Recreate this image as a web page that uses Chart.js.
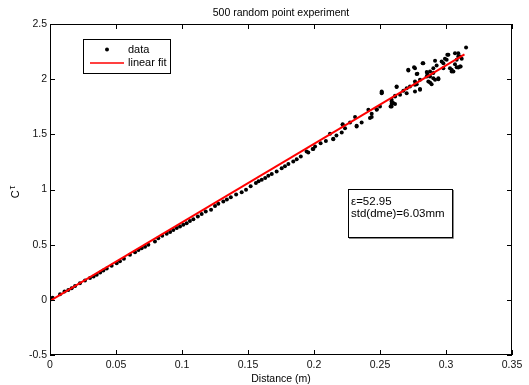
<!DOCTYPE html>
<html>
<head>
<meta charset="utf-8">
<script src="https://cdn.jsdelivr.net/npm/chart.js@4.4.1/dist/chart.umd.min.js"></script>
<style>
  html, body { margin: 0; padding: 0; background: #fff; }
  #wrap { width: 529px; height: 385px; }
</style>
</head>
<body>
<div id="wrap"><canvas id="c" width="529" height="385"></canvas></div>
<script>
// Measured distance (m) of each sample point
const distance = [
  0.002, 0.0076, 0.011, 0.0139, 0.0164, 0.019, 0.0227, 0.0265, 0.0303, 0.033,
  0.0354, 0.038, 0.0404, 0.043, 0.0467, 0.0505, 0.053, 0.056, 0.0606, 0.0644,
  0.067, 0.0694, 0.072, 0.0745, 0.0795, 0.082, 0.085, 0.0884, 0.091, 0.0934,
  0.096, 0.0985, 0.101, 0.1035, 0.106, 0.1086, 0.112, 0.1149, 0.118, 0.122,
  0.125, 0.1275, 0.1313, 0.134, 0.137, 0.141, 0.1452, 0.1485, 0.152, 0.156,
  0.158, 0.1604, 0.163, 0.1654, 0.168, 0.1717, 0.1755, 0.178, 0.1806, 0.1843,
  0.1869, 0.19, 0.1944, 0.1957, 0.199, 0.1995, 0.2008, 0.205, 0.209, 0.2121,
  0.2146, 0.2146, 0.217, 0.221, 0.2217, 0.2217, 0.2235, 0.2273, 0.2311, 0.2323,
  0.2323, 0.2361, 0.2412, 0.2424, 0.2437, 0.2437, 0.2475, 0.2475, 0.25, 0.2513,
  0.2513, 0.2513, 0.2588, 0.2588, 0.2588, 0.2588, 0.258, 0.26, 0.2614, 0.2614,
  0.2614, 0.2626, 0.2626, 0.2652, 0.2677, 0.2702, 0.2702, 0.2714, 0.2715, 0.2727,
  0.2758, 0.2765, 0.2765, 0.2765, 0.2765, 0.2778, 0.2778, 0.2783, 0.2803, 0.2803,
  0.2803, 0.2823, 0.2828, 0.2854, 0.2854, 0.2858, 0.2866, 0.2879, 0.2879, 0.2879,
  0.2891, 0.2904, 0.2904, 0.2904, 0.2917, 0.2917, 0.2929, 0.2942, 0.2942, 0.2967,
  0.298, 0.298, 0.2992, 0.3005, 0.301, 0.3018, 0.303, 0.3043, 0.3043, 0.3056,
  0.3068, 0.3068, 0.3081, 0.3081, 0.3093, 0.3093, 0.3093, 0.3106, 0.3106, 0.3111,
  0.3119, 0.3152
];

// Normalised coefficient C*tau of each sample point
const cTau = [
  0.02, 0.05, 0.075, 0.09, 0.106, 0.125, 0.151, 0.175, 0.197, 0.212,
  0.227, 0.248, 0.266, 0.283, 0.308, 0.332, 0.35, 0.372, 0.408, 0.432,
  0.452, 0.468, 0.482, 0.499, 0.529, 0.559, 0.58, 0.598, 0.615, 0.634,
  0.65, 0.665, 0.68, 0.695, 0.715, 0.731, 0.755, 0.779, 0.8, 0.816,
  0.85, 0.87, 0.891, 0.91, 0.93, 0.955, 0.976, 0.997, 1.03, 1.058,
  1.075, 1.088, 1.105, 1.124, 1.14, 1.163, 1.193, 1.21, 1.23, 1.254,
  1.275, 1.3, 1.344, 1.335, 1.366, 1.366, 1.389, 1.42, 1.44, 1.505,
  1.456, 1.459, 1.49, 1.516, 1.592, 1.586, 1.556, 1.607, 1.656, 1.577,
  1.571, 1.607, 1.722, 1.647, 1.686, 1.656, 1.722, 1.728, 1.752, 1.879,
  1.873, 1.888, 1.797, 1.813, 1.752, 1.776, 1.752, 1.783, 1.849, 1.776,
  1.843, 1.933, 1.928, 1.858, 1.894, 1.918, 1.873, 2.085, 2.078, 1.933,
  2.109, 2.1, 1.979, 1.888, 1.949, 2.046, 1.955, 2.048, 1.994, 1.912,
  1.903, 2.145, 2.145, 2.064, 2.024, 2.048, 1.979, 2.069, 1.970, 2.024,
  1.955, 2.1, 2.009, 2.055, 2.166, 1.994, 2.124, 2.009, 2.0, 2.16,
  2.1, 2.145, 2.184, 2.175, 2.221, 2.221, 2.1, 2.069, 2.085, 2.069,
  2.136, 2.236, 2.175, 2.109, 2.236, 2.106, 2.205, 2.115, 2.205, 2.115,
  2.184, 2.287
];

// End points of the least-squares line
const fitDistance = [0, 0.314];
const fitCTau = [-0.01, 2.225];

// Axis ticks
const xTickValues = [0, 0.05, 0.1, 0.15, 0.2, 0.25, 0.3, 0.35];
const xTickLabels = ['0', '0.05', '0.1', '0.15', '0.2', '0.25', '0.3', '0.35'];
const yTickValues = [-0.5, 0, 0.5, 1, 1.5, 2, 2.5];
const yTickLabels = ['-0.5', '0', '0.5', '1', '1.5', '2', '2.5'];

// Text
const titleText = '500 random point experiment';
const xTitle = 'Distance (m)';
const legendItems = ['data', 'linear fit'];
const noteLines = ['\u03b5=52.95', 'std(dme)=6.03mm'];

const FONT = '"Liberation Sans", Arial, Helvetica, sans-serif';

const points = distance.map((d, i) => ({ x: d, y: cTau[i] }));
const fitPoints = fitDistance.map((d, i) => ({ x: d, y: fitCTau[i] }));

// Boxed axes with inward ticks, legend, note box and titles
const decorations = {
  id: 'decorations',
  afterDraw(chart) {
    const ctx = chart.ctx;
    const a = chart.chartArea;
    const xs = chart.scales.x, ys = chart.scales.y;
    ctx.save();

    // frame
    ctx.strokeStyle = '#000';
    ctx.lineWidth = 1;
    ctx.strokeRect(Math.round(a.left) + 0.5, Math.round(a.top) + 0.5,
                   Math.round(a.right - a.left) - 1, Math.round(a.bottom - a.top) - 1);

    // inward ticks on all four sides
    const tl = 5;
    ctx.beginPath();
    xTickValues.forEach(v => {
      const px = Math.round(xs.getPixelForValue(v)) + 0.5;
      ctx.moveTo(px, a.bottom); ctx.lineTo(px, a.bottom - tl);
      ctx.moveTo(px, a.top); ctx.lineTo(px, a.top + tl);
    });
    yTickValues.forEach(v => {
      const py = Math.round(ys.getPixelForValue(v)) + 0.5;
      ctx.moveTo(a.left, py); ctx.lineTo(a.left + tl, py);
      ctx.moveTo(a.right, py); ctx.lineTo(a.right - tl, py);
    });
    ctx.stroke();

    // title and x-axis title
    ctx.fillStyle = '#000';
    ctx.textAlign = 'center';
    ctx.textBaseline = 'middle';
    ctx.font = '10.5px ' + FONT;
    const cx = (a.left + a.right) / 2;
    ctx.fillText(titleText, cx, 13);
    ctx.fillText(xTitle, cx, 379);

    // y-axis title: C with raised tau, rotated
    ctx.save();
    ctx.translate(16, 192);
    ctx.rotate(-Math.PI / 2);
    ctx.textAlign = 'left';
    ctx.font = '11px ' + FONT;
    const cw = ctx.measureText('C').width;
    ctx.font = '9.5px ' + FONT;
    const tw = ctx.measureText('\u03c4').width;
    const start = -(cw + tw + 1) / 2;
    ctx.font = '11px ' + FONT;
    ctx.fillText('C', start, 0);
    ctx.font = '9.5px ' + FONT;
    ctx.fillText('\u03c4', start + cw + 1, -4);
    ctx.restore();

    // legend box
    const lg = { x: 83, y: 39, w: 87, h: 34 };
    ctx.fillStyle = '#fff';
    ctx.fillRect(lg.x, lg.y, lg.w, lg.h);
    ctx.strokeStyle = '#000';
    ctx.strokeRect(lg.x + 0.5, lg.y + 0.5, lg.w, lg.h);
    ctx.fillStyle = '#000';
    ctx.beginPath();
    ctx.arc(107, 49.5, 2, 0, Math.PI * 2);
    ctx.fill();
    ctx.strokeStyle = '#ff0000';
    ctx.lineWidth = 1.5;
    ctx.beginPath();
    ctx.moveTo(90, 63); ctx.lineTo(124, 63);
    ctx.stroke();
    ctx.font = '11px ' + FONT;
    ctx.textAlign = 'left';
    ctx.fillStyle = '#000';
    ctx.fillText(legendItems[0], 128, 49.5);
    ctx.fillText(legendItems[1], 128, 63);

    // note box
    const nb = { x: 348, y: 189, w: 104, h: 48 };
    ctx.fillStyle = '#fff';
    ctx.fillRect(nb.x, nb.y, nb.w, nb.h);
    ctx.strokeStyle = '#000';
    ctx.lineWidth = 1;
    ctx.strokeRect(nb.x + 0.5, nb.y + 0.5, nb.w, nb.h);
    ctx.strokeStyle = '#888';
    ctx.beginPath();
    ctx.moveTo(nb.x + 1, nb.y + nb.h + 1.5); ctx.lineTo(nb.x + nb.w + 1.5, nb.y + nb.h + 1.5);
    ctx.lineTo(nb.x + nb.w + 1.5, nb.y + 1);
    ctx.stroke();
    ctx.fillStyle = '#000';
    ctx.font = '11.5px ' + FONT;
    ctx.fillText(noteLines[0], 351, 202);
    ctx.fillText(noteLines[1], 351, 214);

    ctx.restore();
  }
};

new Chart(document.getElementById('c'), {
  type: 'scatter',
  data: {
    datasets: [
      {
        label: legendItems[1],
        data: fitPoints,
        showLine: true,
        borderColor: '#ff0000',
        borderWidth: 2,
        pointRadius: 0,
        fill: false,
        order: 0
      },
      {
        label: legendItems[0],
        data: points,
        backgroundColor: '#000',
        borderColor: '#000',
        borderWidth: 0,
        pointRadius: 2,
        order: 1
      }
    ]
  },
  options: {
    responsive: false,
    animation: false,
    events: [],
    layout: { padding: { top: 24, right: 17, left: 0, bottom: 0 } },
    plugins: { legend: { display: false }, tooltip: { enabled: false }, title: { display: false } },
    scales: {
      x: {
        type: 'linear',
        min: 0, max: 0.35,
        grid: { display: false, drawTicks: false },
        border: { display: false },
        afterBuildTicks: s => { s.ticks = xTickValues.map(v => ({ value: v })); },
        afterFit: s => { s.height = 30; },
        ticks: {
          autoSkip: false,
          maxRotation: 0,
          padding: 4,
          color: '#111',
          font: { family: FONT, size: 10.5 },
          callback: (v, i) => xTickLabels[i]
        }
      },
      y: {
        type: 'linear',
        min: -0.5, max: 2.5,
        grid: { display: false, drawTicks: false },
        border: { display: false },
        afterBuildTicks: s => { s.ticks = yTickValues.map(v => ({ value: v })); },
        afterFit: s => { s.width = 50; },
        ticks: {
          autoSkip: false,
          padding: 3,
          color: '#111',
          font: { family: FONT, size: 10.5 },
          callback: (v, i) => yTickLabels[i]
        }
      }
    }
  },
  plugins: [decorations]
});
</script>
</body>
</html>
